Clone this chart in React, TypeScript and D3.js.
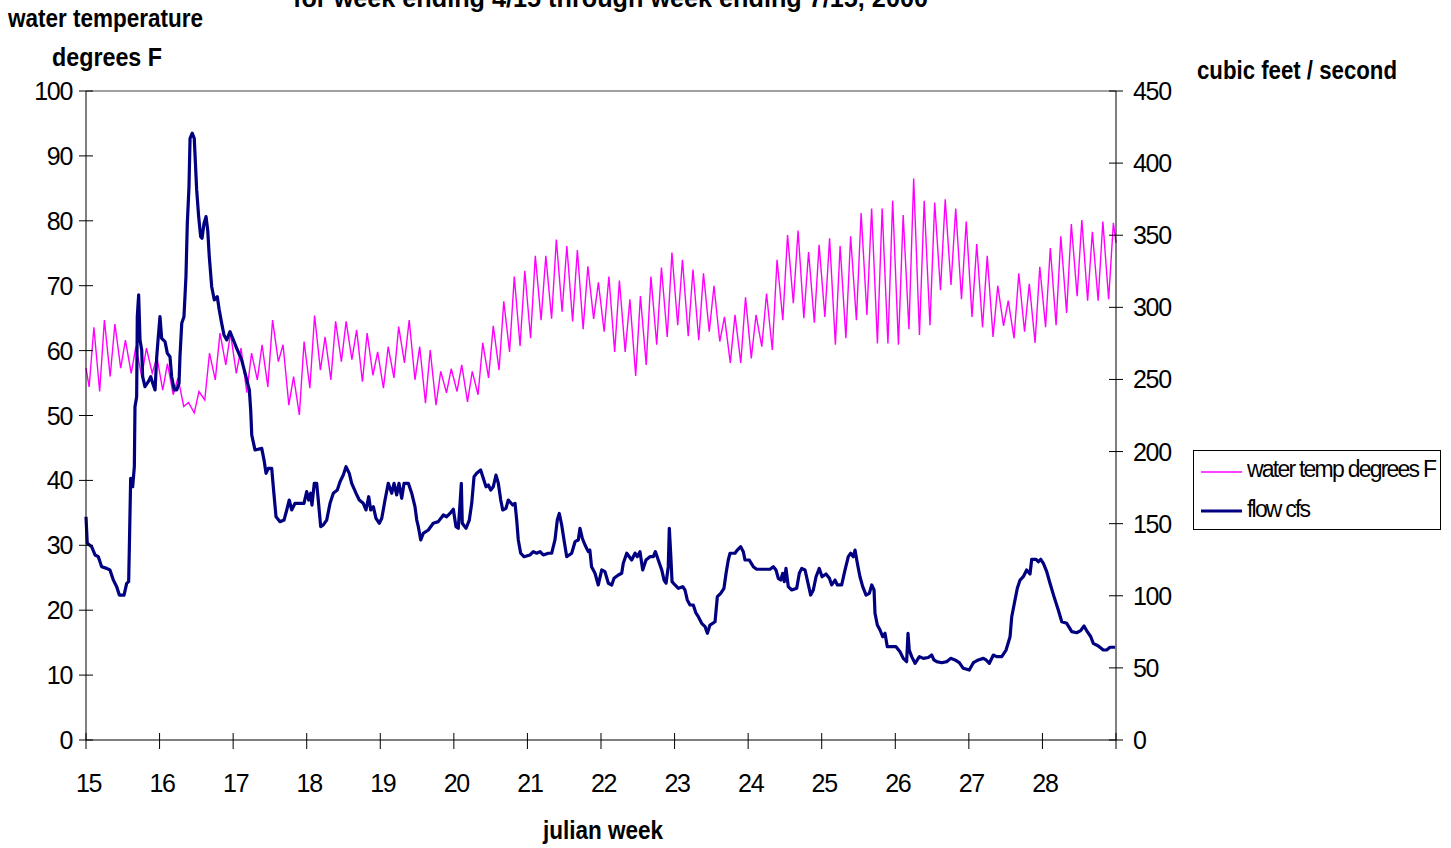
import React from "react";
import * as d3 from "d3";

// ---------- DATA ----------
const titleText = "for week ending 4/15 through week ending 7/15,  2000";
const weekTicks = [15, 16, 17, 18, 19, 20, 21, 22, 23, 24, 25, 26, 27, 28];
const tempTicks = [0, 10, 20, 30, 40, 50, 60, 70, 80, 90, 100];
const flowTicks = [0, 50, 100, 150, 200, 250, 300, 350, 400, 450];
const seriesNames = ["water temp degrees F", "flow cfs"];

// daily water temperature lows / highs (degrees F), one per day from week 15
const tempStart = 57.3;
const tempEnd = 76.6;
const dailyLow = [
  54.4, 53.7, 56, 57.3, 56.5, 56, 56.5, 53.9, 53.2, 51.4,
  50.4, 52.4, 55.5, 57.8, 56.5, 53.5, 55.5, 54.4, 58.3, 51.6,
  50.1, 54.2, 57, 55.5, 58.3, 58.6, 55.2, 56.2, 54.2, 55.8,
  58.1, 55.5, 51.9, 51.6, 53.5, 53.7, 52.1, 53.2, 55.8, 57,
  59.8, 60.7, 61.9, 64.7, 64.9, 66, 64.5, 63.3, 64.9, 62.9,
  59.8, 59.8, 56.1, 57.8, 60.9, 62.1, 63.9, 62.2, 61.6, 62.9,
  61.4, 58.1, 58.1, 58.8, 60.6, 60.1, 64.7, 67.3, 65, 64.3,
  65.2, 60.9, 61.9, 64.7, 65.5, 61.1, 61.1, 60.9, 63.3, 62.4,
  63.9, 69.3, 70.1, 67.9, 65.2, 63.6, 62.1, 63.8, 61.9, 62.9,
  61.2, 63.6, 63.9, 65.8, 68.4, 67.7, 67.7, 67.9,
];
const dailyHigh = [
  63.6, 64.7, 64.1, 61.6, 60.6, 60.4, 59, 58, 55.8, 52,
  53.7, 59.6, 62.7, 62.7, 60.4, 59.6, 60.9, 64.7, 60.9, 56,
  61.4, 65.4, 62.1, 64.5, 64.5, 63.2, 62.7, 59.8, 60.6, 63.7,
  64.7, 60.6, 60.1, 56.8, 57.2, 57.8, 56.8, 61.2, 63.8, 67.6,
  71.4, 72.3, 74.6, 74.6, 77.1, 76.1, 75.5, 73, 70.5, 71.4,
  70.8, 67.9, 68.4, 71.4, 72.8, 75.1, 74, 72.5, 71.9, 70,
  65.2, 65.5, 68.2, 65.5, 68.8, 74, 77.8, 78.5, 75.2, 76.3,
  77.3, 76.1, 77.6, 81.2, 81.9, 81.9, 83.1, 80.9, 86.5, 83.1,
  82.8, 83.3, 81.9, 79.9, 76.4, 74.6, 70, 67.7, 71.9, 70.3,
  72.9, 75.8, 77.6, 79.5, 80.1, 78.3, 79.9, 79.7,
];

// flow readings: [days since start of week 15, cubic feet / second]
const flowReadings: [number, number][] = [
  [0, 154.8], [0.12, 136.4], [0.54, 134], [0.86, 128.3], [1.17, 127.1], [1.49, 120.2],
  [1.97, 119], [2.28, 117.9], [2.6, 110.9], [2.92, 106.3], [3.17, 100.5], [3.62, 100.5],
  [3.87, 108.6], [4.06, 109.8], [4.12, 131.7], [4.25, 181.4], [4.44, 175.6], [4.6, 189.5],
  [4.66, 231.1], [4.82, 238], [4.88, 293.5], [5.01, 308.6], [5.14, 277.4], [5.3, 270.4],
  [5.39, 251.9], [5.61, 245], [5.93, 248.5], [6.16, 251.9], [6.35, 247.3], [6.57, 242.7],
  [6.73, 265.8], [6.88, 279.7], [7.04, 293.5], [7.2, 278.5], [7.52, 276.2], [7.74, 268.1],
  [7.99, 265.8], [8.15, 251.9], [8.4, 242.7], [8.63, 242.7], [8.85, 247.3], [8.94, 265.8],
  [9.11, 288.9], [9.32, 293.5], [9.51, 321.2], [9.64, 358.3], [9.8, 383.7], [9.9, 417.2],
  [10.11, 420.7], [10.3, 417.2], [10.53, 381.4], [10.72, 362.9], [10.91, 349], [11.04, 347.9],
  [11.23, 358.3], [11.42, 362.9], [11.58, 353.6], [11.73, 335.1], [11.96, 314.3], [12.21, 305.1],
  [12.49, 307.4], [12.68, 298.2], [12.91, 288.9], [13.13, 280.8], [13.39, 277.4], [13.7, 283.1],
  [13.96, 278.5], [14.34, 271.6], [14.81, 263.5], [15.22, 251.9], [15.54, 242.7], [15.67, 228.8],
  [15.77, 211.5], [15.98, 204.5], [16.08, 201.1], [16.72, 202.2], [16.94, 194.1], [17.13, 184.9],
  [17.35, 188.4], [17.67, 188.4], [17.82, 175.6], [18.08, 154.8], [18.46, 151.4], [18.84, 152.5],
  [19.1, 159.5], [19.34, 166.4], [19.57, 159.5], [19.89, 164.1], [20.36, 164.1], [20.74, 164.1],
  [21, 172.2], [21.19, 166.4], [21.38, 171.1], [21.5, 162.9], [21.72, 178], [21.95, 178],
  [22.1, 166.4], [22.33, 147.9], [22.58, 149.1], [22.9, 152.5], [23.22, 164.1], [23.53, 171.1],
  [23.91, 173.3], [24.17, 179.1], [24.48, 183.7], [24.74, 189.5], [25.05, 184.9], [25.28, 178],
  [25.69, 171.1], [26, 166.4], [26.38, 164.1], [26.64, 159.5], [26.9, 168.7], [27.09, 159.5],
  [27.34, 161.8], [27.59, 153.7], [27.91, 150.3], [28.14, 153.7], [28.45, 166.4], [28.76, 178],
  [29.09, 171.1], [29.31, 178], [29.56, 169.9], [29.78, 178], [30.04, 167.6], [30.26, 178],
  [30.67, 178], [30.99, 171.1], [31.3, 161.8], [31.47, 152.5], [31.62, 147.9], [31.85, 138.7],
  [32.09, 143.3], [32.57, 145.6], [33.04, 150.3], [33.52, 151.4], [34, 156], [34.32, 154.8],
  [34.63, 157.1], [34.95, 160], [35.2, 147.9], [35.42, 146.8], [35.59, 164.1], [35.71, 178],
  [35.8, 150.3], [36.16, 146.8], [36.47, 152.5], [36.7, 164.1], [36.92, 182.6], [37.17, 184.9],
  [37.55, 187.2], [37.8, 181.5], [38.06, 175.6], [38.28, 176.8], [38.51, 173.3], [38.75, 175.6],
  [39.01, 183.7], [39.23, 178], [39.46, 166.4], [39.65, 159.5], [39.96, 160.7], [40.18, 166.4],
  [40.6, 162.9], [40.82, 164.1], [40.98, 152.5], [41.13, 138.7], [41.36, 129.5], [41.67, 127.1],
  [42.25, 128.3], [42.56, 130.6], [42.88, 129.5], [43.2, 130.6], [43.51, 128.3], [43.99, 129.5],
  [44.31, 129.5], [44.62, 138.7], [44.84, 152.5], [45.03, 157.1], [45.26, 149.1], [45.48, 138.7],
  [45.74, 127.1], [46.21, 129.5], [46.53, 137.5], [46.84, 138.7], [47, 146.8], [47.22, 139.9],
  [47.48, 135.2], [47.79, 130.6], [47.94, 131.7], [48.1, 120.2], [48.43, 115.6], [48.74, 107.5],
  [49.07, 117.9], [49.38, 116.7], [49.7, 108.7], [50.02, 107.5], [50.24, 112.1], [50.65, 114.4],
  [50.97, 115.6], [51.12, 122.5], [51.45, 129.5], [51.92, 124.8], [52.24, 129.5], [52.45, 127.1],
  [52.71, 130.6], [52.97, 117.9], [53.28, 124.8], [53.66, 127.1], [53.98, 127.1], [54.17, 130.6],
  [54.45, 124.8], [54.78, 117.9], [55, 110.9], [55.19, 108.7], [55.4, 120.2], [55.5, 146.8],
  [55.63, 129.5], [55.76, 109.8], [56.04, 107.5], [56.36, 105.2], [56.78, 106.3], [56.99, 104],
  [57.21, 97.1], [57.47, 93.6], [57.78, 93.6], [58.04, 87.9], [58.26, 85.5], [58.58, 80.9],
  [58.9, 78.6], [59.12, 74], [59.37, 79.7], [59.85, 82], [60.07, 99.4], [60.39, 101.7],
  [60.7, 105.2], [60.9, 115.6], [61.11, 124.8], [61.28, 129.5], [61.75, 129.5], [61.97, 131.7],
  [62.29, 134], [62.54, 130.6], [62.7, 124.8], [63.11, 124.8], [63.49, 120.2], [63.81, 118.4],
  [65.08, 118.4], [65.4, 120.2], [65.65, 117.9], [65.87, 112.1], [66.1, 110.9], [66.29, 115.6],
  [66.44, 109.8], [66.6, 119], [66.82, 106.3], [67.15, 104], [67.62, 105.2], [67.87, 115.6],
  [68.1, 119], [68.41, 117.9], [68.63, 110.9], [68.95, 100.5], [69.2, 104], [69.46, 113.2],
  [69.77, 119], [70.03, 113.2], [70.41, 115.1], [70.73, 112.1], [70.95, 107.5], [71.27, 110.9],
  [71.49, 107.5], [71.9, 107.5], [72.22, 117.9], [72.53, 127.1], [72.76, 129.5], [73.01, 127.1],
  [73.17, 131.7], [73.39, 122.5], [73.64, 113.2], [73.9, 106.3], [74.22, 100.5], [74.53, 101.7],
  [74.76, 107.5], [74.98, 104], [75.07, 87.9], [75.29, 79.7], [75.55, 76.3], [75.8, 71.6],
  [76.02, 74], [76.24, 64.7], [76.66, 64.7], [77.07, 64.7], [77.45, 61.2], [77.76, 56.6],
  [78.08, 54.3], [78.21, 74], [78.33, 62.4], [78.56, 57.8], [78.88, 53.2], [79.29, 57.8],
  [79.67, 56.6], [80.14, 57.2], [80.46, 58.9], [80.68, 55.5], [80.94, 54.3], [81.42, 53.6],
  [81.89, 54.3], [82.27, 56.6], [82.68, 55.5], [83.09, 53.6], [83.47, 49.7], [84.04, 48.5],
  [84.43, 53.6], [84.9, 55.5], [85.38, 56.6], [85.63, 55.5], [85.95, 53.2], [86.33, 58.9],
  [86.65, 57.8], [87.13, 57.8], [87.54, 62.4], [87.92, 71.6], [88.08, 85.5], [88.39, 97.1],
  [88.61, 105.2], [88.87, 110.9], [89.18, 113.2], [89.5, 117.9], [89.82, 115.1], [89.98, 125.3],
  [90.39, 125.3], [90.61, 123.6], [90.84, 125.3], [91.09, 122.5], [91.41, 116.7], [91.72, 108.7],
  [92.1, 99.4], [92.51, 90.1], [92.84, 82], [93.31, 80.9], [93.79, 75.1], [94.26, 74.4],
  [94.64, 75.8], [94.96, 79], [95.27, 75.1], [95.6, 71.6], [95.84, 67], [96.32, 65.2],
  [96.79, 62.4], [97.11, 62.4], [97.43, 64.3], [97.91, 64.3],
];

// ---------- LAYOUT ----------
const W = 1451;
const H = 848;
const left = 86;
const right = 1116;
const top = 91;
const bottom = 740;
const FONT = "'Liberation Sans', Arial, sans-serif";
const MAGENTA = "#FF00FF";
const NAVY = "#000080";

export default function App() {
  const x = d3.scaleLinear().domain([15, 29]).range([left, right]);
  const yT = d3.scaleLinear().domain([0, 100]).range([bottom, top]);
  const yF = d3.scaleLinear().domain([0, 450]).range([bottom, top]);
  const dayToWeek = (d: number) => 15 + d / 7;

  const tempPts: [number, number][] = [[0, tempStart]];
  dailyLow.forEach((lo, i) => {
    tempPts.push([i + 0.3, lo]);
    tempPts.push([i + 0.75, dailyHigh[i]]);
  });
  tempPts.push([dailyLow.length, tempEnd]);

  const tempLine = d3
    .line<[number, number]>()
    .x((p) => x(dayToWeek(p[0])))
    .y((p) => yT(p[1]));
  const flowLine = d3
    .line<[number, number]>()
    .x((p) => x(dayToWeek(p[0])))
    .y((p) => yF(p[1]));

  const tickFont = { fontFamily: FONT, fontSize: 25, letterSpacing: -1.3 } as const;
  const boldFont = { fontFamily: FONT, fontSize: 26, fontWeight: 700 } as const;

  return (
    <svg
      width={W}
      height={H}
      style={{ position: "absolute", left: 0, top: 0, background: "#fff" }}
    >
      <rect x={0} y={0} width={W} height={H} fill="#fff" />
      {/* title (partly cut at top, as in the source) */}
      <text x={293} y={7} textLength={635} lengthAdjust="spacingAndGlyphs" {...boldFont}>
        {titleText}
      </text>
      {/* axis titles */}
      <text x={8} y={27} textLength={195} lengthAdjust="spacingAndGlyphs" {...boldFont}>
        water temperature
      </text>
      <text x={52} y={66} textLength={110} lengthAdjust="spacingAndGlyphs" {...boldFont}>
        degrees F
      </text>
      <text x={1197} y={79} textLength={200} lengthAdjust="spacingAndGlyphs" {...boldFont}>
        cubic feet / second
      </text>
      <text x={543} y={839} textLength={120} lengthAdjust="spacingAndGlyphs" {...boldFont}>
        julian week
      </text>

      {/* plot frame top */}
      <line x1={left} x2={right} y1={top} y2={top} stroke="#808080" strokeWidth={1.5} />

      {/* series */}
      <path d={tempLine(tempPts) || ""} fill="none" stroke={MAGENTA} strokeWidth={1.4} />
      <path
        d={flowLine(flowReadings) || ""}
        fill="none"
        stroke={NAVY}
        strokeWidth={3.2}
        strokeLinejoin="round"
      />

      {/* axes */}
      <line x1={left} x2={left} y1={top} y2={bottom} stroke="#000" strokeWidth={1} />
      <line x1={right} x2={right} y1={top} y2={bottom} stroke="#000" strokeWidth={1} />
      <line x1={left} x2={right} y1={bottom} y2={bottom} stroke="#000" strokeWidth={1.2} />

      {tempTicks.map((t) => (
        <g key={"lt" + t}>
          <line x1={left - 7} x2={left + 7} y1={yT(t)} y2={yT(t)} stroke="#000" />
          <text x={72} y={yT(t) + 9} textAnchor="end" {...tickFont}>
            {t}
          </text>
        </g>
      ))}
      {flowTicks.map((t) => (
        <g key={"rt" + t}>
          <line x1={right - 7} x2={right + 7} y1={yF(t)} y2={yF(t)} stroke="#000" />
          <text x={1133} y={yF(t) + 9} textAnchor="start" {...tickFont}>
            {t}
          </text>
        </g>
      ))}
      {[...weekTicks, 29].map((w) => (
        <line key={"bt" + w} x1={x(w)} x2={x(w)} y1={bottom - 7} y2={bottom + 9} stroke="#000" />
      ))}
      {weekTicks.map((w) => (
        <text key={"bl" + w} x={x(w) + 2.5} y={792} textAnchor="middle" {...tickFont}>
          {w}
        </text>
      ))}

      {/* legend */}
      <rect x={1193.5} y={450.5} width={247} height={79} fill="#fff" stroke="#000" strokeWidth={1} />
      <line x1={1201} x2={1242} y1={472} y2={472} stroke={MAGENTA} strokeWidth={1.4} />
      <text x={1247} y={477} textLength={190} lengthAdjust="spacing" fontFamily={FONT} fontSize={23}>
        {seriesNames[0]}
      </text>
      <line x1={1201} x2={1242} y1={511} y2={511} stroke={NAVY} strokeWidth={3.2} />
      <text x={1247} y={517} textLength={64} lengthAdjust="spacing" fontFamily={FONT} fontSize={23}>
        {seriesNames[1]}
      </text>
    </svg>
  );
}
